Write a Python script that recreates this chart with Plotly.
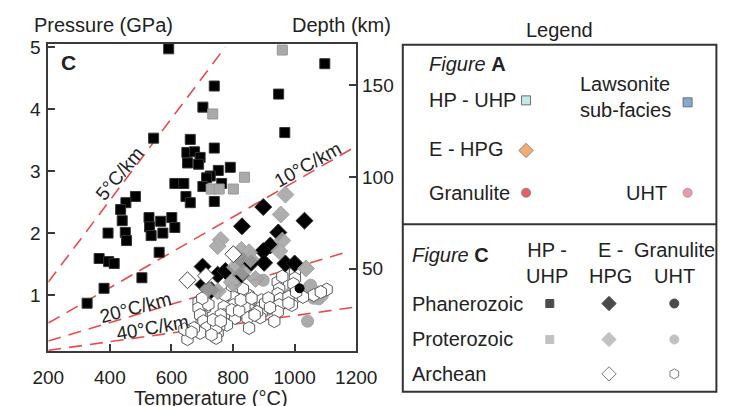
import plotly.graph_objects as go

W, H = 745, 406

# ---------------- data (Temperature °C, Pressure GPa) ----------------
phan_hp_T = [591, 1098, 739, 948, 702, 968, 542, 661, 739, 650, 675, 693, 652, 688, 791, 752,
             726, 714, 611, 640, 763, 702, 483, 452, 435, 647, 661, 739, 440, 527, 601, 565,
             529, 611, 450, 394, 534, 572, 454, 560, 365, 396, 414, 504, 381, 326]
phan_hp_P = [4.97, 4.73, 4.37, 4.24, 4.03, 3.62, 3.53, 3.51, 3.37, 3.30, 3.31, 3.22, 3.13, 3.11, 3.06, 3.01,
             2.92, 2.89, 2.80, 2.80, 2.80, 2.75, 2.59, 2.49, 2.38, 2.59, 2.49, 2.51, 2.20, 2.25, 2.25, 2.19,
             2.10, 2.09, 2.01, 2.00, 1.96, 2.00, 1.88, 1.69, 1.59, 1.54, 1.51, 1.28, 1.11, 0.87]

prot_hp_T = [960, 734, 837, 729, 755, 801]
prot_hp_P = [4.95, 3.92, 2.90, 2.71, 2.71, 2.71]

phan_ehpg_T = [898, 1032, 829, 947, 921, 898, 901, 970, 1000, 701, 750, 775, 825, 832, 859, 704, 729]
phan_ehpg_P = [2.42, 2.20, 2.11, 2.01, 1.80, 1.71, 1.52, 1.51, 1.51, 1.46, 1.33, 1.39, 1.32, 1.55, 1.52, 1.17, 1.08]

prot_ehpg_T = [970, 955, 760, 750, 960, 1037, 827, 852, 750, 719, 801, 950, 806, 873, 832, 822, 857, 796]
prot_ehpg_P = [2.62, 2.30, 1.89, 1.79, 1.88, 1.43, 1.73, 1.69, 1.06, 1.10, 1.18, 1.71, 1.45, 1.26, 1.37, 1.60, 1.58, 1.21]

arch_ehpg_T = [652, 801, 712]
arch_ehpg_P = [1.24, 1.66, 1.31]

phan_gran_T = [1016]
phan_gran_P = [1.11]

prot_gran_T = [1047, 1073, 1047, 1027, 1078, 1042, 898, 1006, 991, 909, 883, 945, 965, 852, 811, 1062, 1052, 1090]
prot_gran_P = [1.13, 1.05, 1.02, 1.00, 0.94, 0.58, 1.24, 1.10, 1.05, 0.76, 0.77, 0.84, 0.87, 0.89, 0.89, 0.95, 1.16, 1.00]

arch_gran_T = [1104, 1001, 1001, 996, 1001, 991, 945, 950, 945, 953, 950, 945, 934, 980, 893, 893, 893, 888,
               850, 850, 850, 842, 796, 801, 801, 806, 806, 775, 770, 770, 780, 755, 750, 745, 709, 709,
               698, 698, 832, 688, 688, 693, 704, 714, 693, 673, 652, 642, 745, 760, 796, 837, 847, 852,
               904, 878, 1062, 1027, 980, 720, 735, 760, 820, 825, 860, 870, 915, 920, 960, 1005, 1085,
               730, 665, 700]
arch_gran_P = [1.09, 1.37, 1.27, 1.18, 0.96, 0.84, 1.21, 1.10, 1.02, 0.94, 0.84, 0.73, 0.58, 0.97, 0.92, 0.81, 0.72, 0.64,
               1.00, 0.89, 0.78, 0.68, 1.08, 0.97, 0.84, 0.71, 0.63, 1.00, 0.81, 0.68, 0.52, 0.50, 0.39, 0.31, 0.89, 0.79,
               0.68, 0.58, 1.10, 0.89, 0.79, 0.68, 0.58, 0.47, 0.39, 0.47, 0.29, 0.45, 0.47, 0.68, 0.76, 0.81, 0.63, 0.47,
               0.87, 0.73, 1.00, 0.97, 0.87, 0.85, 0.60, 0.58, 0.75, 0.92, 0.95, 0.68, 0.95, 0.80, 1.30, 1.05, 1.05,
               0.36, 0.40, 0.95]

# geotherms (end points)
geo_labels = ["5°C/km", "10°C/km", "20°C/km", "40°C/km"]
geo_T = [[200, 775], [200, 1200], [200, 1180], [200, 1200]]
geo_P = [[1.21, 5.0], [0.55, 3.40], [0.26, 1.71], [0.11, 0.81]]

x_ticks = [200, 400, 600, 800, 1000, 1200]
y_ticks = [1, 2, 3, 4, 5]
depth_ticks = [50, 100, 150]

FONT = "Liberation Sans, Arial, sans-serif"
FS = 20
RED = "#ec4a4a"

# pixel helpers for layout placement
def px(x):
    return x / W

def py(y):
    return 1 - y / H

fig = go.Figure()

# geotherm lines
for T, P in zip(geo_T, geo_P):
    fig.add_trace(go.Scatter(x=T, y=P, mode="lines", line=dict(color=RED, width=1.6, dash="13px,8px"),
                             hoverinfo="skip", showlegend=False))

def pts(T, P, symbol, size, fill, line_c, line_w=1, opacity=1.0):
    fig.add_trace(go.Scatter(x=T, y=P, mode="markers", showlegend=False, opacity=opacity,
                             marker=dict(symbol=symbol, size=size, color=fill,
                                         line=dict(color=line_c, width=line_w))))

pts(prot_gran_T, prot_gran_P, "circle", 12, "#a3a3a3", "#9a9a9a", 1, 0.9)
pts(arch_gran_T, arch_gran_P, "hexagon", 13, "white", "#5a5a5a", 1)
pts(phan_gran_T, phan_gran_P, "circle", 9, "black", "black", 1)
pts(phan_ehpg_T, phan_ehpg_P, "diamond", 13, "black", "#222", 1)
pts(prot_ehpg_T, prot_ehpg_P, "diamond", 13, "#a6a6a6", "#999", 1, 0.9)
pts(arch_ehpg_T, arch_ehpg_P, "diamond", 13, "white", "#444", 1)
pts(phan_hp_T, phan_hp_P, "square", 10, "black", "#333", 1)
pts(prot_hp_T, prot_hp_P, "square", 10, "#aaaaaa", "#999", 1)

# depth axis carrier (invisible)
fig.add_trace(go.Scatter(x=[200], y=[50], yaxis="y2", mode="markers", marker=dict(opacity=0),
                         hoverinfo="skip", showlegend=False))

# legend markers on a pixel-space overlay axis
leg_x = [536.7, 706.7, 536.7, 536.7, 706.7, 561.7, 624, 692.7, 561.7, 624, 692.7, 624, 692.7]
leg_y = [95, 97, 146, 189, 189, 301.7, 301.7, 301.7, 338.3, 338.3, 338.3, 373.3, 373.3]
leg_sym = ["square", "square", "diamond", "circle", "circle",
           "square", "diamond", "circle", "square", "diamond", "circle", "diamond", "hexagon"]
leg_col = ["#a7dfe2", "#4f86c4", "#f08a3c", "#e01b22", "#e66f82",
           "black", "black", "black", "#a8a8a8", "#a8a8a8", "#a8a8a8", "white", "white"]
leg_line = ["#333", "#333", "#555", "#555", "#777",
            "black", "black", "black", "#a8a8a8", "#a8a8a8", "#a8a8a8", "#444", "#444"]
leg_size = [9, 9, 11, 9, 9, 8, 11, 9, 8, 11, 9, 11, 10]
fig.add_trace(go.Scatter(x=leg_x, y=leg_y, xaxis="x3", yaxis="y3", mode="markers", showlegend=False,
                         hoverinfo="skip",
                         marker=dict(symbol=leg_sym, color=leg_col, size=leg_size,
                                     line=dict(color=leg_line, width=1))))

axis_common = dict(showgrid=False, zeroline=False, showline=True, linecolor="#3a3a3a", linewidth=2,
                   ticks="inside", ticklen=7, tickwidth=1.5, tickcolor="#3a3a3a",
                   tickfont=dict(family=FONT, size=19, color="#222"))

fig.update_layout(
    width=W, height=H, margin=dict(l=0, r=0, t=0, b=0),
    paper_bgcolor="white", plot_bgcolor="rgba(0,0,0,0)",
    font=dict(family=FONT, size=FS, color="#222"),
    xaxis=dict(domain=[px(34), px(358)], range=[200, 1200], tickvals=x_ticks, mirror=True,
               ticklabelstandoff=8, **axis_common),
    yaxis=dict(domain=[py(350), py(37.5)], range=[0.1, 5.05], tickvals=y_ticks, mirror=True,
               ticklabelstandoff=2, **axis_common),
    yaxis2=dict(overlaying="y", side="right", range=[5, 172.6], tickvals=depth_ticks,
                ticklabelstandoff=0, **axis_common),
    xaxis3=dict(domain=[0, 1], range=[0, W], visible=False, fixedrange=True),
    yaxis3=dict(domain=[0, 1], range=[H, 0], visible=False, fixedrange=True, anchor="x3"),
    showlegend=False,
)

ann = []
def txt(x, y, s, size=FS, xanchor="center", yanchor="middle", angle=0, align="center"):
    ann.append(dict(x=px(x), y=py(y), xref="paper", yref="paper", text=s, showarrow=False,
                    xanchor=xanchor, yanchor=yanchor, textangle=angle, align=align,
                    font=dict(family=FONT, size=size, color="#222")))

# axis titles
txt(92, 18, "Pressure (GPa)")
txt(342, 18, "Depth (km)")
txt(205, 398, "Temperature (°C)")
txt(55, 56, "<b>C</b>", size=21)

# geotherm labels
txt(109, 169, geo_labels[0], size=19, angle=-50)
txt(307, 160, geo_labels[1], size=19, angle=-29)
txt(126, 306, geo_labels[2], size=19, angle=-15)
txt(144, 326, geo_labels[3], size=19, angle=-10)

# legend texts
txt(572, 23, "Legend")
txt(432, 58, "<i>Figure</i> <b>A</b>", xanchor="left")
txt(432, 95, "HP - UHP", xanchor="left")
txt(591, 92, "Lawsonite<br>sub-facies", xanchor="left", align="left")
txt(432, 144, "E - HPG", xanchor="left")
txt(432, 189, "Granulite", xanchor="left")
txt(687, 189, "UHT", xanchor="right")
txt(415, 252, "<i>Figure</i> <b>C</b>", xanchor="left")
txt(559, 260, "HP -<br>UHP")
txt(626, 260, "E -<br>HPG")
txt(693, 260, "Granulite<br>UHT")
txt(415, 302, "Phanerozoic", xanchor="left")
txt(415, 338, "Proterozoic", xanchor="left")
txt(415, 373, "Archean", xanchor="left")
fig.update_layout(annotations=ann)

# legend box
fig.update_layout(shapes=[
    dict(type="rect", xref="paper", yref="paper", x0=px(407), x1=px(737), y0=py(391.5), y1=py(38.5),
         line=dict(color="#333", width=2)),
    dict(type="line", xref="paper", yref="paper", x0=px(407), x1=px(737), y0=py(221), y1=py(221),
         line=dict(color="#333", width=2)),
])

fig.write_html("out.html")
